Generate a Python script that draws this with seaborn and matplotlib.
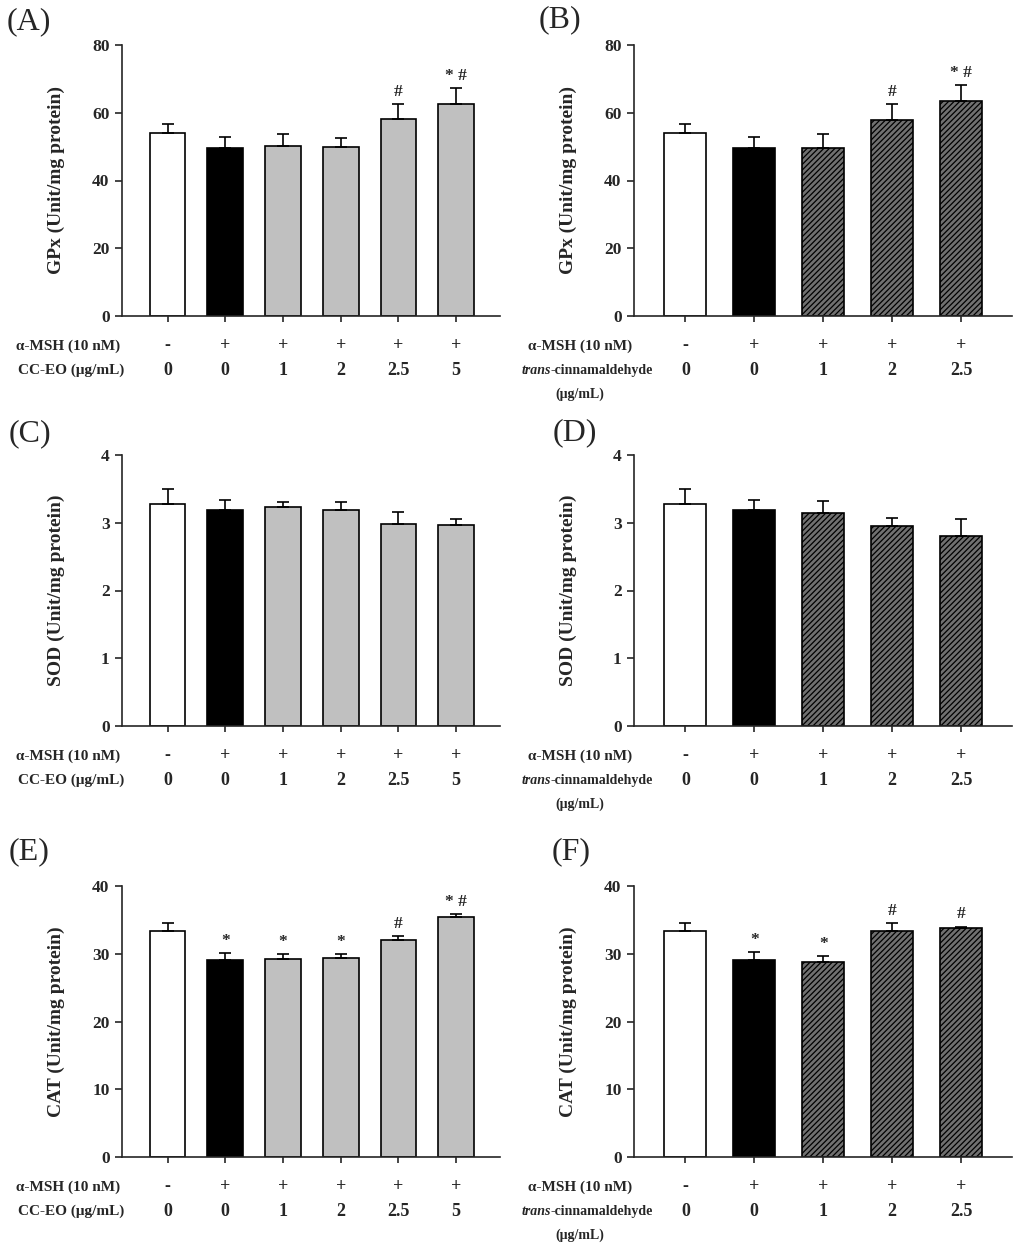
import pandas as pd
import seaborn as sns
import matplotlib.pyplot as plt

# group definitions
cc_groups = ['Control', 'a-MSH', 'CC-EO 1', 'CC-EO 2', 'CC-EO 2.5', 'CC-EO 5']
cc_msh = ['-', '+', '+', '+', '+', '+']
cc_dose = ['0', '0', '1', '2', '2.5', '5']

tc_groups = ['Control', 'a-MSH', 'TC 1', 'TC 2', 'TC 2.5']
tc_msh = ['-', '+', '+', '+', '+']
tc_dose = ['0', '0', '1', '2', '2.5']

# GPx
gpx_cc = [53.9, 49.7, 50.3, 50.0, 58.3, 62.6]
gpx_cc_err = [2.8, 3.2, 3.5, 2.5, 4.2, 4.6]
gpx_cc_sig = ['', '', '', '', '#', '* #']
gpx_tc = [53.9, 49.7, 49.7, 57.9, 63.5]
gpx_tc_err = [2.8, 3.2, 3.9, 4.6, 4.7]
gpx_tc_sig = ['', '', '', '#', '* #']

# SOD
sod_cc = [3.27, 3.19, 3.23, 3.19, 2.98, 2.96]
sod_cc_err = [0.23, 0.14, 0.07, 0.11, 0.18, 0.10]
sod_cc_sig = ['', '', '', '', '', '']
sod_tc = [3.27, 3.19, 3.14, 2.95, 2.80]
sod_tc_err = [0.23, 0.14, 0.18, 0.12, 0.26]
sod_tc_sig = ['', '', '', '', '']

# CAT
cat_cc = [33.4, 29.1, 29.2, 29.4, 32.1, 35.4]
cat_cc_err = [1.1, 1.0, 0.7, 0.6, 0.5, 0.5]
cat_cc_sig = ['', '*', '*', '*', '#', '* #']
cat_tc = [33.4, 29.15, 28.8, 33.4, 33.8]
cat_tc_err = [1.2, 1.05, 0.9, 1.15, 0.2]
cat_tc_sig = ['', '*', '*', '#', '#']

sns.set_style('ticks')
plt.rcParams['font.family'] = ['Liberation Serif', 'DejaVu Serif']
plt.rcParams['hatch.color'] = 'black'
plt.rcParams['hatch.linewidth'] = 0.9

W, H = 1024, 1253
fig = plt.figure(figsize=(W / 100, H / 100), dpi=100)


def px_axes(left, top, right, bottom):
    return fig.add_axes([left / W, 1 - bottom / H, (right - left) / W, (bottom - top) / H])


def draw_panel(ax, groups, values, errs, sigs, msh, dose, ylabel, ymax, yticks,
               hatched, dose_label, xlim, width):
    df = pd.DataFrame({'group': groups, 'value': values})
    colors = ['white', 'black'] + [('#707070' if hatched else '#c0c0c0')] * (len(groups) - 2)
    sns.barplot(data=df, x='group', y='value', hue='group', order=groups,
                palette=dict(zip(groups, colors)), legend=False, errorbar=None,
                width=width, edgecolor='black', linewidth=1.2, ax=ax)
    centers = [p.get_x() + p.get_width() / 2 for p in ax.patches[:len(groups)]]
    if hatched:
        for p in ax.patches[2:len(groups)]:
            p.set_hatch('//////')
    ax.errorbar(centers, values, yerr=[[0] * len(errs), errs], fmt='none',
                ecolor='black', elinewidth=1.2, capsize=4, capthick=1.2, zorder=1)
    for xc, v, e, s in zip(centers, values, errs, sigs):
        if s:
            ax.annotate(s, (xc, v + e), xytext=(0, 3), textcoords='offset points',
                        ha='center', va='bottom', fontsize=12.5, fontweight='bold',
                        annotation_clip=False)

    ax.set_xlim(*xlim)
    ax.set_ylim(0, ymax)
    ax.set_yticks(yticks)
    ax.set_yticklabels([str(t) for t in yticks], fontsize=12.5, fontweight='bold')
    ax.set_xticks(centers)
    ax.set_xticklabels([])
    ax.tick_params(axis='y', length=5, width=1.2, pad=4)
    ax.tick_params(axis='x', length=4, width=1.2)
    ax.set_xlabel('')
    ax.set_ylabel(ylabel, fontsize=14, fontweight='bold')
    ax.yaxis.set_label_coords(-0.151, 0.5)
    sns.despine(ax=ax)
    for sp in ['left', 'bottom']:
        ax.spines[sp].set_linewidth(1.2)

    # treatment rows under the axis
    for xc, m, d in zip(centers, msh, dose):
        ax.annotate(m, (xc, 0), xycoords=('data', 'axes fraction'), xytext=(0, -21.5),
                    textcoords='offset points', ha='center', va='center',
                    fontsize=13, fontweight='bold')
        ax.annotate(d, (xc, 0), xycoords=('data', 'axes fraction'), xytext=(0, -39),
                    textcoords='offset points', ha='center', va='center',
                    fontsize=13, fontweight='bold')
    ax.annotate('\u03b1-MSH (10 nM)', (0, 0), xycoords='axes fraction', xytext=(-38.5, -21.5),
                textcoords='offset points', ha='center', va='center',
                fontsize=11, fontweight='bold')
    if dose_label == 'cc':
        ax.annotate('CC-EO (\u03bcg/mL)', (0, 0), xycoords='axes fraction', xytext=(-36.5, -39),
                    textcoords='offset points', ha='center', va='center',
                    fontsize=11, fontweight='bold')
    else:
        ax.annotate('trans', (0, 0), xycoords='axes fraction', xytext=(-59.8, -39),
                    textcoords='offset points', ha='right', va='center',
                    fontsize=10, fontweight='bold', fontstyle='italic')
        ax.annotate('-cinnamaldehyde', (0, 0), xycoords='axes fraction', xytext=(-59.8, -39),
                    textcoords='offset points', ha='left', va='center',
                    fontsize=10, fontweight='bold')
        ax.annotate('(\u03bcg/mL)', (0, 0), xycoords='axes fraction', xytext=(-39, -56.5),
                    textcoords='offset points', ha='center', va='center',
                    fontsize=10, fontweight='bold')


rows = [(45, 316), (455, 726), (886, 1157)]
panels = [
    (gpx_cc, gpx_cc_err, gpx_cc_sig, gpx_tc, gpx_tc_err, gpx_tc_sig,
     'GPx (Unit/mg protein)', 80, [0, 20, 40, 60, 80]),
    (sod_cc, sod_cc_err, sod_cc_sig, sod_tc, sod_tc_err, sod_tc_sig,
     'SOD (Unit/mg protein)', 4, [0, 1, 2, 3, 4]),
    (cat_cc, cat_cc_err, cat_cc_sig, cat_tc, cat_tc_err, cat_tc_sig,
     'CAT (Unit/mg protein)', 40, [0, 10, 20, 30, 40]),
]
letters = [('(A)', 7, 22, '(B)', 539, 20), ('(C)', 9, 434, '(D)', 553, 433),
           ('(E)', 9, 852, '(F)', 552, 852)]

for (top, bottom), p, lt in zip(rows, panels, letters):
    cc, cce, ccs, tc, tce, tcs, ylab, ymax, yt = p
    ax_l = px_axes(122, top, 500, bottom)
    draw_panel(ax_l, cc_groups, cc, cce, ccs, cc_msh, cc_dose, ylab, ymax, yt,
               False, 'cc', (-0.79, 5.76), 0.62)
    ax_r = px_axes(634, top, 1012, bottom)
    draw_panel(ax_r, tc_groups, tc, tce, tcs, tc_msh, tc_dose, ylab, ymax, yt,
               True, 'tc', (-0.745, 4.74), 0.61)
    fig.text(lt[1] / W, 1 - lt[2] / H, lt[0], fontsize=23, ha='left', va='center')
    fig.text(lt[4] / W, 1 - lt[5] / H, lt[3], fontsize=23, ha='left', va='center')

fig.savefig('out.png', dpi=100)
